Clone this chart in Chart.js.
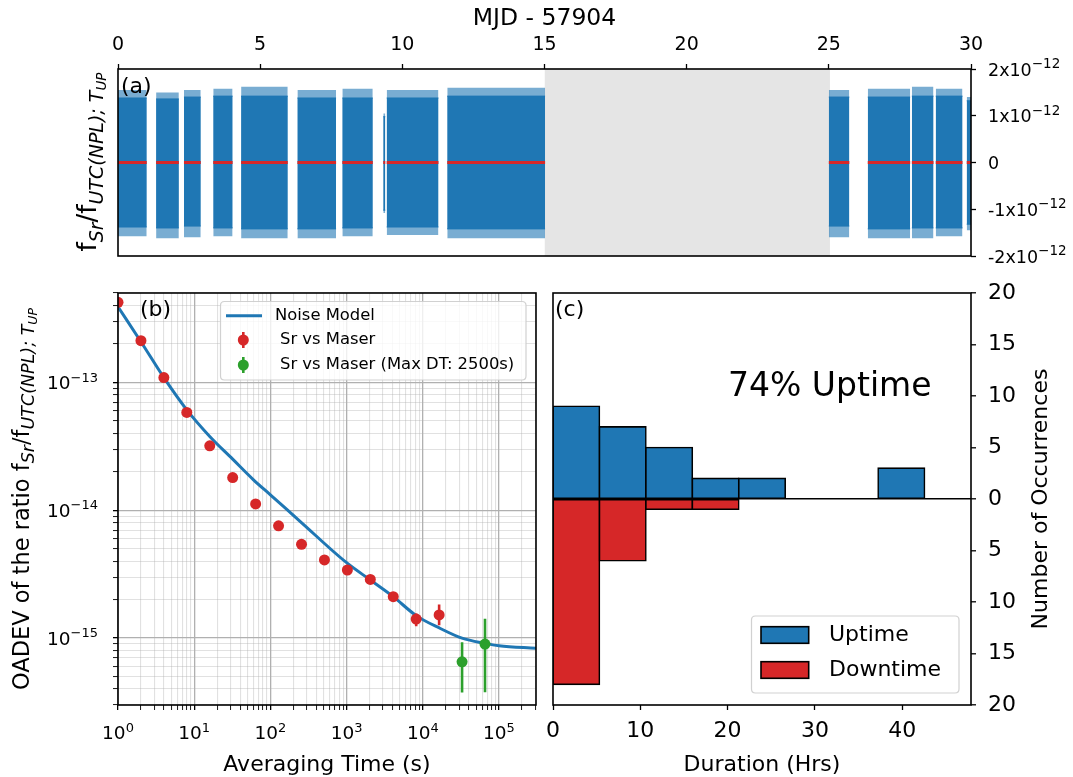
<!DOCTYPE html>
<html>
<head>
<meta charset="utf-8">
<script src="https://cdn.jsdelivr.net/npm/chart.js@4/dist/chart.umd.min.js"></script>
<style>
html,body{margin:0;padding:0;background:#fff;}
#wrap{position:relative;width:1073px;height:777px;overflow:hidden;background:#fff;}
#wrap canvas{position:absolute;left:0;top:0;}
</style>
</head>
<body>
<div id="wrap">
<canvas id="ca" width="1073" height="777"></canvas>
<canvas id="cb" width="1073" height="777"></canvas>
<canvas id="cc" width="1073" height="777"></canvas>
</div>
<script>
// ================= DATA =================
// Panel (a): MJD - 57904 (days), time trace of fractional frequency ratio
const mjdTicks = [0, 5, 10, 15, 20, 25, 30];
const fracTickValues = [-2e-12, -1e-12, 0, 1e-12, 2e-12];
const fracTickLabels = ['-2x10^\u221212', '-1x10^\u221212', '0', '1x10^\u221212', '2x10^\u221212'];
const segStart = [0.00, 1.34, 2.32, 3.35, 4.33, 6.31, 7.89, 9.33, 9.45, 11.58, 25.00, 26.37, 27.92, 28.76, 29.85];
const segEnd   = [1.01, 2.14, 2.91, 4.03, 5.97, 7.67, 8.96, 9.40, 11.27, 15.02, 25.72, 27.86, 28.68, 29.70, 30.00];
const segHigh  = [1.38e-12, 1.36e-12, 1.40e-12, 1.42e-12, 1.42e-12, 1.38e-12, 1.38e-12, 0.98e-12, 1.38e-12, 1.42e-12, 1.40e-12, 1.40e-12, 1.42e-12, 1.42e-12, 1.32e-12];
const segLow   = [-1.38e-12, -1.40e-12, -1.36e-12, -1.40e-12, -1.42e-12, -1.42e-12, -1.40e-12, -1.02e-12, -1.38e-12, -1.42e-12, -1.36e-12, -1.42e-12, -1.40e-12, -1.40e-12, -1.32e-12];
const segPeak  = [1.55e-12, 1.50e-12, 1.55e-12, 1.58e-12, 1.62e-12, 1.55e-12, 1.58e-12, 1.05e-12, 1.55e-12, 1.60e-12, 1.55e-12, 1.58e-12, 1.62e-12, 1.58e-12, 1.40e-12];
const segTrough = [-1.58e-12, -1.62e-12, -1.60e-12, -1.58e-12, -1.62e-12, -1.62e-12, -1.58e-12, -1.08e-12, -1.55e-12, -1.62e-12, -1.60e-12, -1.62e-12, -1.62e-12, -1.58e-12, -1.45e-12];
const segMean  = [0, 0, 0, 0, 0, 0, 0, 0, 0, 0, 0, 0, 0, 0, 0];
const gapStart = 15.0, gapEnd = 25.04;

// Panel (b): overlapping Allan deviation
const tauMajorTicks = [1, 10, 100, 1000, 10000, 100000];
const tauMajorLabels = ['10^0', '10^1', '10^2', '10^3', '10^4', '10^5'];
const adevMajorTicks = [1e-15, 1e-14, 1e-13];
const adevMajorLabels = ['10^\u221215', '10^\u221214', '10^\u221213'];
const tauSr   = [1, 2, 4, 8, 16, 32, 64, 128, 256, 512, 1024, 2048, 4096, 8192, 16384];
const adevSr  = [4.23e-13, 2.12e-13, 1.09e-13, 5.82e-14, 3.19e-14, 1.80e-14, 1.12e-14, 7.55e-15, 5.42e-15, 4.09e-15, 3.41e-15, 2.88e-15, 2.11e-15, 1.41e-15, 1.52e-15];
const adevSrLo = [4.15e-13, 2.09e-13, 1.07e-13, 5.72e-14, 3.13e-14, 1.76e-14, 1.09e-14, 7.30e-15, 5.25e-15, 3.95e-15, 3.28e-15, 2.75e-15, 2.00e-15, 1.24e-15, 1.26e-15];
const adevSrHi = [4.31e-13, 2.15e-13, 1.11e-13, 5.92e-14, 3.25e-14, 1.84e-14, 1.15e-14, 7.80e-15, 5.60e-15, 4.23e-15, 3.54e-15, 3.01e-15, 2.22e-15, 1.56e-15, 1.83e-15];
const tauMax   = [32768, 65536];
const adevMax  = [6.53e-16, 8.99e-16];
const adevMaxLo = [3.76e-16, 3.78e-16];
const adevMaxHi = [9.27e-16, 1.42e-15];
const tauModel  = [1, 2, 4, 8, 16, 32, 60, 100, 247, 1000, 2048, 4096, 8192, 17000, 32700, 65536, 100000, 306000];
const adevModel = [3.90e-13, 2.08e-13, 1.09e-13, 6.10e-14, 3.78e-14, 2.51e-14, 1.73e-14, 1.32e-14, 8.16e-15, 3.89e-15, 2.85e-15, 2.11e-15, 1.50e-15, 1.19e-15, 1.00e-15, 9.10e-16, 8.72e-16, 8.32e-16];
const seriesNames = ['Noise Model', 'Sr vs Maser', 'Sr vs Maser (Max DT: 2500s)'];

// Panel (c): histogram of uptime / downtime durations
const binEdges = [0, 5.32, 10.64, 15.96, 21.28, 26.60, 31.92, 37.24, 42.56, 47.88];
const uptimeCounts   = [9, 7, 5, 2, 2, 0, 0, 3, 0];
const downtimeCounts = [18, 6, 1, 1, 0, 0, 0, 0, 0];
const durationTicks = [0, 10, 20, 30, 40];
const countTicks = [-20, -15, -10, -5, 0, 5, 10, 15, 20];
const countTickLabels = ['20', '15', '10', '5', '0', '5', '10', '15', '20'];
const histNames = ['Uptime', 'Downtime'];

// ================= HELPERS =================
const FAM = "'DejaVu Sans', sans-serif";
const BLUE = '#1f77b4', RED = '#d62728', GREEN = '#2ca02c';
Chart.defaults.font.family = FAM;
Chart.defaults.color = '#000';

function fontStr(size, italic) { return (italic ? 'italic ' : '') + size + 'px ' + FAM; }
function drawRich(ctx, x, y, pieces, rot, align) {
  ctx.save();
  ctx.translate(x, y);
  if (rot) ctx.rotate(rot);
  ctx.textBaseline = 'alphabetic';
  ctx.textAlign = 'left';
  ctx.fillStyle = '#000';
  const w = pieces.map(p => { ctx.font = fontStr(p.size, p.italic); return ctx.measureText(p.t).width; });
  const total = w.reduce((a, b) => a + b, 0);
  let cx = align === 'left' ? 0 : (align === 'right' ? -total : -total / 2);
  pieces.forEach((p, i) => { ctx.font = fontStr(p.size, p.italic); ctx.fillText(p.t, cx, p.dy || 0); cx += w[i]; });
  ctx.restore();
}
// label text "base^exp" -> rich pieces
function powerPieces(label, size, supSize, raise) {
  const parts = label.split('^');
  const pieces = [{ t: parts[0], size: size }];
  if (parts.length > 1) pieces.push({ t: parts[1], size: supSize, dy: -raise });
  return pieces;
}
function roundRect(ctx, x, y, w, h, r) {
  ctx.beginPath();
  ctx.moveTo(x + r, y);
  ctx.lineTo(x + w - r, y); ctx.quadraticCurveTo(x + w, y, x + w, y + r);
  ctx.lineTo(x + w, y + h - r); ctx.quadraticCurveTo(x + w, y + h, x + w - r, y + h);
  ctx.lineTo(x + r, y + h); ctx.quadraticCurveTo(x, y + h, x, y + h - r);
  ctx.lineTo(x, y + r); ctx.quadraticCurveTo(x, y, x + r, y);
  ctx.closePath();
}
const framePlugin = {
  id: 'frame',
  afterDatasetsDraw(chart) {
    const { ctx, chartArea: a } = chart;
    ctx.save();
    ctx.strokeStyle = '#000';
    ctx.lineWidth = 1.6;
    ctx.strokeRect(a.left, a.top, a.right - a.left, a.bottom - a.top);
    ctx.restore();
  }
};
function bandPoints(levels) {
  const pts = [];
  for (let i = 0; i < segStart.length; i++) {
    pts.push({ x: segStart[i], y: levels[i] }, { x: segEnd[i], y: levels[i] });
    if (i < segStart.length - 1) pts.push({ x: (segEnd[i] + segStart[i + 1]) / 2, y: null });
  }
  return pts;
}
function errPoints(t, lo, hi) {
  const pts = [];
  t.forEach((v, i) => { pts.push({ x: v, y: lo[i] }, { x: v, y: hi[i] }, { x: v, y: null }); });
  return pts;
}
function isDecade(v) { const l = Math.log10(v); return Math.abs(l - Math.round(l)) < 1e-6; }
function logTicks(lo, hi) {
  const out = [];
  for (let d = Math.floor(Math.log10(lo)); d <= Math.ceil(Math.log10(hi)); d++) {
    for (let m = 1; m <= 9; m++) {
      const v = m * Math.pow(10, d);
      if (v >= lo * (1 - 1e-9) && v <= hi * (1 + 1e-9)) out.push(v);
    }
  }
  return out;
}
function labelFor(values, labels, v, tol) {
  const i = values.findIndex(t => Math.abs(t - v) <= tol(t));
  return i >= 0 ? labels[i] : '';
}
const tickGrid = { drawOnChartArea: false, drawTicks: true, tickLength: 5, tickColor: '#000', tickWidth: 1.3 };
const common = { responsive: false, animation: false, devicePixelRatio: 1, events: [],
  plugins: { legend: { display: false }, tooltip: { enabled: false } } };

// ================= PANEL (a) =================
const textsA = {
  id: 'textsA',
  afterDraw(chart) {
    const ctx = chart.ctx;
    drawRich(ctx, 544.5, 25, [{ t: 'MJD - 57904', size: 23.5 }], 0);
    drawRich(ctx, 121, 93, [{ t: '(a)', size: 22 }], 0, 'left');
    drawRich(ctx, 96, 162, [
      { t: 'f', size: 26 }, { t: 'Sr', size: 19, italic: true, dy: 7 },
      { t: '/f', size: 26 }, { t: 'UTC(NPL); T', size: 19, italic: true, dy: 7 },
      { t: 'UP', size: 13.5, italic: true, dy: 10 }], -Math.PI / 2);
    const ys = chart.scales.y;
    fracTickValues.forEach((v, i) => {
      const y = ys.getPixelForValue(v);
      drawRich(ctx, 988, y + 6.5, powerPieces(fracTickLabels[i], 17.5, 13.5, 7.5), 0, 'left');
    });
  }
};
const fillBlue = { borderColor: BLUE, borderWidth: 1, backgroundColor: BLUE, pointRadius: 0, fill: 'origin', spanGaps: false };
const fillFringe = { borderColor: 'rgba(31,119,180,0)', borderWidth: 1, backgroundColor: 'rgba(31,119,180,0.6)', pointRadius: 0, fill: 'origin', spanGaps: false };
new Chart(document.getElementById('ca'), {
  type: 'line',
  data: { datasets: [
    { label: 'mean', data: bandPoints(segMean), borderColor: RED, borderWidth: 3, pointRadius: 0, fill: false, spanGaps: false },
    Object.assign({ label: 'upper' , data: bandPoints(segHigh) }, fillBlue),
    Object.assign({ label: 'lower', data: bandPoints(segLow) }, fillBlue),
    Object.assign({ label: 'peak', data: bandPoints(segPeak) }, fillFringe),
    Object.assign({ label: 'trough', data: bandPoints(segTrough) }, fillFringe),
    { label: 'gap', data: [{ x: gapStart, y: 2e-12 }, { x: gapEnd, y: 2e-12 }], borderColor: 'rgba(0,0,0,0)', borderWidth: 1, backgroundColor: '#e5e5e5', pointRadius: 0, fill: 'start' }
  ] },
  options: Object.assign({}, common, {
    layout: { padding: { left: 118, top: 0, right: 0, bottom: 521 } },
    scales: {
      x: { type: 'linear', position: 'top', min: 0, max: 30,
        afterBuildTicks: s => { s.ticks = mjdTicks.map(v => ({ value: v })); },
        ticks: { font: { size: 19 }, color: '#000', padding: 8, maxRotation: 0, autoSkip: false, callback: v => String(v) },
        grid: tickGrid, border: { display: false },
        afterFit: s => { s.height = 69; } },
      y: { type: 'linear', position: 'right', min: -2e-12, max: 2e-12,
        afterBuildTicks: s => { s.ticks = fracTickValues.map(v => ({ value: v })); },
        ticks: { font: { size: 17 }, color: '#000', padding: 11, autoSkip: false, callback: () => '' },
        grid: tickGrid, border: { display: false },
        afterFit: s => { s.width = 102; } }
    }
  }),
  plugins: [framePlugin, textsA]
});

// ================= PANEL (b) =================
const textsB = {
  id: 'textsB',
  afterDraw(chart) {
    const ctx = chart.ctx;
    drawRich(ctx, 140, 316, [{ t: '(b)', size: 22 }], 0, 'left');
    drawRich(ctx, 327, 771, [{ t: 'Averaging Time (s)', size: 22 }], 0);
    drawRich(ctx, 29, 499, [
      { t: 'OADEV of the ratio f', size: 22.5 }, { t: 'Sr', size: 17.5, italic: true, dy: 5 },
      { t: '/f', size: 22.5 }, { t: 'UTC(NPL); T', size: 17.5, italic: true, dy: 5 },
      { t: 'UP', size: 12.5, italic: true, dy: 8 }], -Math.PI / 2);
    // tick labels with superscripts
    const xs = chart.scales.x, ys = chart.scales.y;
    tauMajorTicks.forEach((v, i) => {
      drawRich(ctx, xs.getPixelForValue(v), 739, powerPieces(tauMajorLabels[i], 18.5, 13, 7.5), 0);
    });
    adevMajorTicks.forEach((v, i) => {
      drawRich(ctx, 98, ys.getPixelForValue(v) + 6.7, powerPieces(adevMajorLabels[i], 18.5, 13, 7.5), 0, 'right');
    });
    // legend
    ctx.save();
    roundRect(ctx, 220.5, 301.5, 305.5, 78.5, 4);
    ctx.fillStyle = 'rgba(255,255,255,0.8)'; ctx.fill();
    ctx.strokeStyle = 'rgba(204,204,204,0.9)'; ctx.lineWidth = 1.2; ctx.stroke();
    ctx.strokeStyle = BLUE; ctx.lineWidth = 3;
    ctx.beginPath(); ctx.moveTo(226, 315.7); ctx.lineTo(262, 315.7); ctx.stroke();
    [[RED, 340], [GREEN, 365]].forEach(([c, yy]) => {
      ctx.strokeStyle = c; ctx.lineWidth = 2.6;
      ctx.beginPath(); ctx.moveTo(243.3, yy - 8); ctx.lineTo(243.3, yy + 8); ctx.stroke();
      ctx.fillStyle = c; ctx.beginPath(); ctx.arc(243.3, yy, 5.5, 0, Math.PI * 2); ctx.fill();
    });
    ctx.fillStyle = '#000'; ctx.textBaseline = 'middle'; ctx.textAlign = 'left';
    ctx.font = fontStr(16.4);
    ctx.fillText(seriesNames[0], 275, 315.7);
    ctx.fillText(seriesNames[1], 280, 340);
    ctx.fillText(seriesNames[2], 280, 365);
    ctx.restore();
  }
};
const tauAllTicks = logTicks(1, 3.06e5);
const adevAllTicks = logTicks(3e-16, 5e-13);
const gridB = {
  drawOnChartArea: true, drawTicks: true, tickLength: 5, tickColor: '#000',
  tickWidth: c => (c.tick && isDecade(c.tick.value)) ? 1.3 : 0.9,
  color: c => (c.tick && isDecade(c.tick.value)) ? '#b0b0b0' : 'rgba(176,176,176,0.38)',
  lineWidth: c => (c.tick && isDecade(c.tick.value)) ? 1.3 : 1.1
};
new Chart(document.getElementById('cb'), {
  type: 'line',
  data: { datasets: [
    { label: seriesNames[1], data: tauSr.map((t, i) => ({ x: t, y: adevSr[i] })), showLine: false, pointRadius: 5.5, pointBorderWidth: 0, backgroundColor: RED, borderColor: RED },
    { label: seriesNames[2], data: tauMax.map((t, i) => ({ x: t, y: adevMax[i] })), showLine: false, pointRadius: 5.5, pointBorderWidth: 0, backgroundColor: GREEN, borderColor: GREEN },
    { label: 'err1', data: errPoints(tauSr, adevSrLo, adevSrHi), borderColor: RED, borderWidth: 2.6, pointRadius: 0, spanGaps: false },
    { label: 'err2', data: errPoints(tauMax, adevMaxLo, adevMaxHi), borderColor: GREEN, borderWidth: 2.6, pointRadius: 0, spanGaps: false },
    { label: seriesNames[0], data: tauModel.map((t, i) => ({ x: t, y: adevModel[i] })), borderColor: BLUE, borderWidth: 3, pointRadius: 0, cubicInterpolationMode: 'monotone', fill: false }
  ] },
  options: Object.assign({}, common, {
    layout: { padding: { left: 38, top: 293, right: 537, bottom: 22 } },
    scales: {
      x: { type: 'logarithmic', position: 'bottom', min: 1, max: 3.06e5,
        afterBuildTicks: s => { s.ticks = tauAllTicks.map(v => ({ value: v })); },
        ticks: { font: { size: 17 }, color: '#000', padding: 11, maxRotation: 0, autoSkip: false, callback: () => '' },
        grid: gridB, border: { display: false },
        afterFit: s => { s.height = 50; } },
      y: { type: 'logarithmic', position: 'left', min: 3e-16, max: 5e-13,
        afterBuildTicks: s => { s.ticks = adevAllTicks.map(v => ({ value: v })); },
        ticks: { font: { size: 17 }, color: '#000', padding: 14, autoSkip: false, callback: () => '' },
        grid: gridB, border: { display: false },
        afterFit: s => { s.width = 80; } }
    }
  }),
  plugins: [framePlugin, textsB]
});

// ================= PANEL (c) =================
const textsC = {
  id: 'textsC',
  afterDraw(chart) {
    const ctx = chart.ctx;
    drawRich(ctx, 555, 316, [{ t: '(c)', size: 22 }], 0, 'left');
    drawRich(ctx, 728, 396, [{ t: '74% Uptime', size: 33 }], 0, 'left');
    drawRich(ctx, 762, 771, [{ t: 'Duration (Hrs)', size: 22 }], 0);
    drawRich(ctx, 1046.5, 499, [{ t: 'Number of Occurrences', size: 22 }], -Math.PI / 2);
    // legend
    ctx.save();
    roundRect(ctx, 751.5, 616, 207.5, 77, 4);
    ctx.fillStyle = 'rgba(255,255,255,0.8)'; ctx.fill();
    ctx.strokeStyle = 'rgba(204,204,204,0.9)'; ctx.lineWidth = 1.2; ctx.stroke();
    [[BLUE, 635, histNames[0]], [RED, 670, histNames[1]]].forEach(([c, yy, name]) => {
      ctx.fillStyle = c; ctx.fillRect(761, yy - 8.3, 47.7, 16.6);
      ctx.strokeStyle = '#000'; ctx.lineWidth = 1.6; ctx.strokeRect(761, yy - 8.3, 47.7, 16.6);
      ctx.fillStyle = '#000'; ctx.textBaseline = 'middle'; ctx.textAlign = 'left';
      ctx.font = fontStr(22); ctx.fillText(name, 829, yy);
    });
    ctx.restore();
  }
};
const binCenters = binEdges.slice(0, -1).map((e, i) => (e + binEdges[i + 1]) / 2);
const barStyle = { borderColor: '#000', borderWidth: 1.6, borderSkipped: false, inflateAmount: 0.8, barPercentage: 1, categoryPercentage: 1 };
new Chart(document.getElementById('cc'), {
  type: 'bar',
  data: { datasets: [
    Object.assign({ label: histNames[0], backgroundColor: BLUE,
      data: binCenters.map((c, i) => ({ x: c, y: uptimeCounts[i] === 0 ? null : uptimeCounts[i] })) }, barStyle),
    Object.assign({ label: histNames[1], backgroundColor: RED,
      data: binCenters.map((c, i) => ({ x: c, y: downtimeCounts[i] === 0 ? null : -downtimeCounts[i] })) }, barStyle)
  ] },
  options: Object.assign({}, common, {
    layout: { padding: { left: 553, top: 293, right: 32, bottom: 22 } },
    scales: {
      x: { type: 'linear', position: 'bottom', min: 0, max: 47.88, offset: false, stacked: true,
        afterBuildTicks: s => { s.ticks = durationTicks.map(v => ({ value: v })); },
        ticks: { font: { size: 22 }, color: '#000', padding: 8, maxRotation: 0, autoSkip: false, callback: v => String(v) },
        grid: Object.assign({ offset: false }, tickGrid), border: { display: false },
        afterFit: s => { s.height = 50; } },
      y: { type: 'linear', position: 'right', min: -20, max: 20, stacked: true,
        afterBuildTicks: s => { s.ticks = countTicks.map(v => ({ value: v })); },
        ticks: { font: { size: 22 }, color: '#000', padding: 12, autoSkip: false,
          callback: v => labelFor(countTicks, countTickLabels, v, () => 1e-9) },
        grid: { drawOnChartArea: true, drawTicks: true, tickLength: 5, tickColor: '#000', tickWidth: 1.3,
          color: c => (c.tick && c.tick.value === 0) ? '#000' : 'rgba(0,0,0,0)', lineWidth: 1.6 },
        border: { display: false },
        afterFit: s => { s.width = 70; } }
    }
  }),
  plugins: [framePlugin, textsC]
});
</script>
</body>
</html>
